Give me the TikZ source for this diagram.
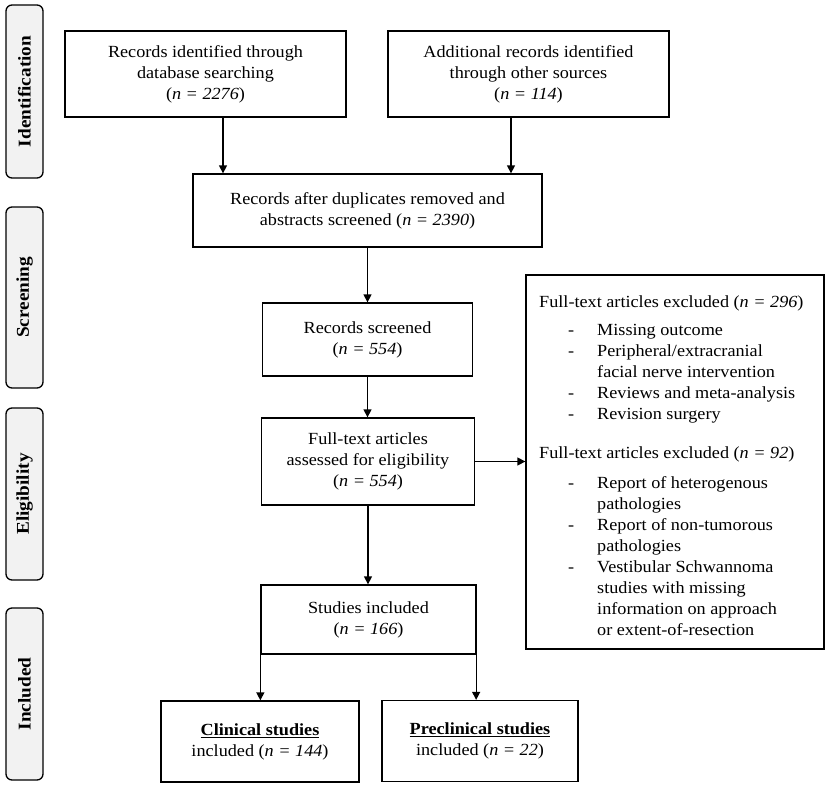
\documentclass[tikz,border=0pt]{standalone}
\usepackage{fontspec}
\setmainfont{Liberation Serif}[FakeStretch=1.07]
\usetikzlibrary{arrows.meta}
\definecolor{stagefill}{HTML}{F2F2F2}
\newcommand{\mfs}{\fontsize{17}{21}\selectfont}
\newcommand{\itm}[1]{\hspace*{29pt}\makebox[29pt][l]{-}#1}
\newcommand{\cnt}[1]{\hspace*{58pt}#1}
\begin{document}
\begin{tikzpicture}[x=1pt,y=-1pt,
  box/.style={draw, line width=1.3pt, align=center, inner sep=0pt, font=\mfs},
  stage/.style={draw, line width=1.3pt, rounded corners=6pt, fill=stagefill, rotate=90,
    inner sep=0pt, minimum height=37, font=\fontsize{18}{21}\selectfont\bfseries},
  arr/.style={line width=1.3pt, -{Triangle[length=8pt,width=8pt]}}]
\useasboundingbox (0,0) rectangle (829,787);
% stage labels
\node[stage, minimum width=173] (s1) at (24.5,91.5) {Identification};
\node[stage, minimum width=181] (s2) at (24.5,297.5) {Screening};
\node[stage, minimum width=172] (s3) at (24.5,494) {Eligibility};
\node[stage, minimum width=172] (s4) at (24.5,694) {Included};
% boxes
\node[box, minimum width=281, minimum height=86] (A) at (205.5,74)
  {Records identified through\\database searching\\(\textit{n = 2276})};
\node[box, minimum width=281, minimum height=86] (B) at (528.5,74)
  {Additional records identified\\through other sources\\(\textit{n = 114})};
\node[box, minimum width=349, minimum height=73] (C) at (367.5,210.5)
  {Records after duplicates removed and\\abstracts screened (\textit{n = 2390})};
\node[box, minimum width=210, minimum height=73] (D) at (367.5,339.5)
  {Records screened\\(\textit{n = 554})};
\node[box, minimum width=213, minimum height=87] (E) at (368,461.5)
  {Full-text articles\\assessed for eligibility\\(\textit{n = 554})};
\node[box, minimum width=215, minimum height=69] (F) at (368.5,619.5)
  {Studies included\\(\textit{n = 166})};
\node[box, minimum width=198, minimum height=81] (G) at (260,741.5)
  {\underline{\textbf{Clinical studies}}\\included (\textit{n = 144})};
\node[box, minimum width=196, minimum height=81] (H) at (480,741)
  {\underline{\textbf{Preclinical studies}}\\included (\textit{n = 22})};
\node[draw, line width=1.3pt, inner sep=0pt, minimum width=298, minimum height=374] (R) at (675,462) {};
\node[anchor=north west, inner sep=0pt, align=left, font=\mfs] (Rt) at (539,295)
  {Full-text articles excluded (\textit{n = 296})\\[7pt]
   \itm{Missing outcome}\\
   \itm{Peripheral/extracranial}\\
   \cnt{facial nerve intervention}\\
   \itm{Reviews and meta-analysis}\\
   \itm{Revision surgery}\\[18pt]
   Full-text articles excluded (\textit{n = 92})\\[9pt]
   \itm{Report of heterogenous}\\
   \cnt{pathologies}\\
   \itm{Report of non-tumorous}\\
   \cnt{pathologies}\\
   \itm{Vestibular Schwannoma}\\
   \cnt{studies with missing}\\
   \cnt{information on approach}\\
   \cnt{or extent-of-resection}};
% connectors
\draw[arr] ([xshift=17.5pt]A.south) -- ([xshift=17.5pt]A.south |- C.north);
\draw[arr] ([xshift=-17.5pt]B.south) -- ([xshift=-17.5pt]B.south |- C.north);
\draw[arr] (C.south) -- (C.south |- D.north);
\draw[arr] (D.south) -- (D.south |- E.north);
\draw[arr] (E.south) -- (E.south |- F.north);
\draw[arr] (E.east) -- (E.east -| R.west);
\draw[arr] (F.south west) -- (F.south west |- G.north);
\draw[arr] ([xshift=-0.5pt]F.south east) -- ([xshift=-0.5pt]F.south east |- H.north);
\end{tikzpicture}
\end{document}
